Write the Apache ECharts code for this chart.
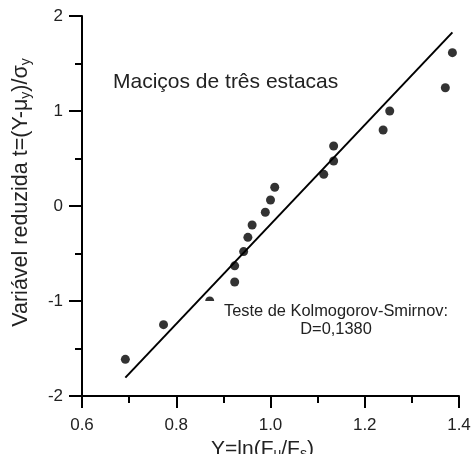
<!DOCTYPE html>
<html>
<head>
<meta charset="utf-8">
<script src="https://cdn.jsdelivr.net/npm/echarts@6/dist/echarts.min.js"></script>
<style>
  html, body { margin: 0; padding: 0; background: #fff; }
  #chart { width: 473px; height: 454px; }
</style>
</head>
<body>
<div id="chart"></div>
<script>
// Observed points: Y = ln(Fu/Fs) vs reduced variable t
const xValues = [0.692, 0.773, 0.871, 0.924, 0.924, 0.943, 0.952, 0.961, 0.989, 1.000, 1.009, 1.113, 1.134, 1.134, 1.239, 1.253, 1.371, 1.386];
const tValues = [-1.614, -1.249, -1.000, -0.800, -0.630, -0.480, -0.330, -0.200, -0.066, 0.063, 0.197, 0.333, 0.474, 0.632, 0.800, 1.000, 1.245, 1.614];
// Fitted line endpoints
const fitX = [0.692, 1.386];
const fitT = [-1.807, 1.828];
// Tick labels
const xTickLabels = ['0.6', '0.8', '1.0', '1.2', '1.4'];
const yTickLabels = ['-2', '-1', '0', '1', '2'];
const titleText = 'Maciços de três estacas';
const noteText = 'Teste de Kolmogorov-Smirnov:\nD=0,1380';

const FONT = '"Liberation Sans", Arial, sans-serif';
const TXT = '#222';

const points = xValues.map((x, i) => [x, tValues[i]]);
const fit = fitX.map((x, i) => [x, fitT[i]]);

const chart = echarts.init(document.getElementById('chart'), null, { renderer: 'canvas' });
chart.setOption({
  animation: false,
  backgroundColor: '#fff',
  textStyle: { fontFamily: FONT },
  title: [
    {
      text: titleText,
      left: 113,
      top: 72,
      padding: 0,
      textStyle: { fontFamily: FONT, fontSize: 21, fontWeight: 'normal', color: TXT }
    },
    {
      text: noteText,
      left: 312,
      top: 301,
      textAlign: 'center',
      padding: [1, 2, 0, 24],
      backgroundColor: '#fff',
      z: 20,
      textStyle: { fontFamily: FONT, fontSize: 16.4, lineHeight: 18, fontWeight: 'normal', color: TXT }
    }
  ],
  grid: { left: 82, right: 14, top: 16, bottom: 58, containLabel: false, outerBoundsMode: 'none' },
  xAxis: {
    type: 'value',
    min: 0.6, max: 1.4, interval: 0.2,
    splitLine: { show: false },
    axisLine: { show: true, onZero: false, lineStyle: { color: '#000', width: 2 } },
    axisTick: { show: true, length: 12, lineStyle: { color: '#000', width: 2 } },
    minorTick: { show: true, splitNumber: 2, length: 7, lineStyle: { color: '#000', width: 2 } },
    axisLabel: {
      margin: 21, fontSize: 17, color: TXT, fontFamily: FONT,
      formatter: (v) => xTickLabels[Math.round((v - 0.6) / 0.2)]
    },
    name: 'Y=ln(F{sub|u}/F{sub|s})',
    nameLocation: 'middle',
    nameGap: 37,
    nameTextStyle: {
      fontSize: 21, color: TXT, fontFamily: FONT, padding: [0, 16, 0, 0],
      rich: { sub: { fontSize: 14, color: TXT, fontFamily: FONT, verticalAlign: 'bottom', padding: [9, 0, 0, 0] } }
    }
  },
  yAxis: {
    type: 'value',
    min: -2, max: 2, interval: 1,
    splitLine: { show: false },
    axisLine: { show: true, onZero: false, lineStyle: { color: '#000', width: 2 } },
    axisTick: { show: true, length: 13, lineStyle: { color: '#000', width: 2 } },
    minorTick: { show: true, splitNumber: 2, length: 7, lineStyle: { color: '#000', width: 2 } },
    axisLabel: {
      margin: 19, fontSize: 17, color: TXT, fontFamily: FONT,
      formatter: (v) => yTickLabels[Math.round(v + 2)]
    },
    name: 'Variável reduzida t=(Y-μ{sub|y})/σ{sub|y}',
    nameLocation: 'middle',
    nameRotate: 90,
    nameGap: 49,
    nameTextStyle: {
      fontSize: 21.5, color: TXT, fontFamily: FONT, padding: [0, 0, 0, 27],
      rich: { sub: { fontSize: 14, color: TXT, fontFamily: FONT, verticalAlign: 'bottom', padding: [9, 0, 0, 0] } }
    }
  },
  series: [
    {
      type: 'line',
      data: fit,
      showSymbol: false,
      symbol: 'none',
      lineStyle: { color: '#000', width: 2 },
      z: 2
    },
    {
      type: 'scatter',
      data: points,
      symbol: 'circle',
      symbolSize: 9,
      itemStyle: { color: '#000' },
      z: 3
    }
  ]
});
</script>
</body>
</html>
